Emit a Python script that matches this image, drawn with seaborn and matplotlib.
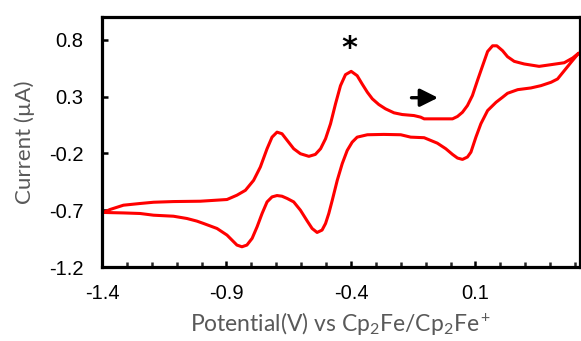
import matplotlib
matplotlib.use("Agg")
import matplotlib.pyplot as plt
import seaborn as sns
import pandas as pd
from matplotlib.ticker import MultipleLocator, FixedLocator

# Forward (anodic) scan
fwd_potential = [-1.395, -1.368, -1.314, -1.247, -1.193, -1.113, -1.005, -0.898, -0.858, -0.824,
                 -0.791, -0.764, -0.737, -0.717, -0.697, -0.677, -0.656, -0.630, -0.603, -0.569,
                 -0.543, -0.522, -0.502, -0.482, -0.462, -0.442, -0.422, -0.399, -0.375, -0.355,
                 -0.334, -0.314, -0.288, -0.261, -0.227, -0.194, -0.147, -0.120, -0.106, -0.053,
                 0.008, 0.028, 0.048, 0.068, 0.088, 0.108, 0.129, 0.149, 0.169, 0.186,
                 0.209, 0.229, 0.256, 0.296, 0.356, 0.404, 0.457, 0.491, 0.515]
fwd_current = [-0.720, -0.694, -0.656, -0.641, -0.630, -0.624, -0.621, -0.606, -0.568, -0.525,
               -0.437, -0.320, -0.159, -0.057, -0.013, -0.027, -0.086, -0.159, -0.203, -0.226,
               -0.209, -0.159, -0.071, 0.061, 0.236, 0.396, 0.493, 0.522, 0.484, 0.411,
               0.338, 0.280, 0.230, 0.192, 0.157, 0.142, 0.133, 0.119, 0.104, 0.104,
               0.104, 0.125, 0.162, 0.221, 0.309, 0.440, 0.572, 0.697, 0.747, 0.747,
               0.704, 0.651, 0.610, 0.587, 0.566, 0.581, 0.598, 0.640, 0.683]

# Reverse (cathodic) scan
rev_potential = [0.515, 0.484, 0.457, 0.430, 0.404, 0.363, 0.323, 0.270, 0.229, 0.209,
                 0.183, 0.149, 0.122, 0.102, 0.082, 0.068, 0.048, 0.028, 0.008, -0.019,
                 -0.053, -0.106, -0.160, -0.200, -0.268, -0.334, -0.375, -0.395, -0.415, -0.435,
                 -0.455, -0.475, -0.489, -0.502, -0.516, -0.536, -0.556, -0.576, -0.603, -0.630,
                 -0.656, -0.677, -0.697, -0.717, -0.737, -0.757, -0.777, -0.797, -0.818, -0.838,
                 -0.858, -0.878, -0.898, -0.938, -0.992, -1.019, -1.059, -1.113, -1.193, -1.247,
                 -1.314, -1.395]
rev_current = [0.683, 0.601, 0.528, 0.455, 0.426, 0.396, 0.376, 0.361, 0.329, 0.294,
               0.250, 0.177, 0.061, -0.057, -0.189, -0.232, -0.253, -0.241, -0.209, -0.159,
               -0.110, -0.062, -0.057, -0.036, -0.033, -0.036, -0.057, -0.101, -0.174, -0.290,
               -0.437, -0.612, -0.729, -0.817, -0.875, -0.896, -0.861, -0.794, -0.700, -0.627,
               -0.597, -0.577, -0.571, -0.583, -0.627, -0.729, -0.846, -0.948, -1.007, -1.022,
               -1.007, -0.963, -0.919, -0.861, -0.817, -0.796, -0.773, -0.753, -0.744, -0.729,
               -0.724, -0.720]

x_ticks = [-1.4, -0.9, -0.4, 0.1]
y_ticks = [-1.2, -0.7, -0.2, 0.3, 0.8]

df = pd.DataFrame({
    "potential": fwd_potential + rev_potential,
    "current": fwd_current + rev_current,
})

sns.set_style("white")
plt.rcParams["font.family"] = ["Liberation Sans", "DejaVu Sans"]
plt.rcParams["mathtext.fontset"] = "custom"
plt.rcParams["mathtext.rm"] = "Lato"
plt.rcParams["mathtext.it"] = "Lato:italic"

fig = plt.figure(figsize=(5.81, 3.41), dpi=100)
ax = fig.add_axes([0.1756, 0.217, 0.8226, 0.733])

sns.lineplot(data=df, x="potential", y="current", sort=False, estimator=None,
             color="#ff0000", lw=2.2, ax=ax)

ax.set_xlim(-1.4, 0.52)
ax.set_ylim(-1.2, 1.0)
ax.xaxis.set_major_locator(FixedLocator(x_ticks))
ax.xaxis.set_minor_locator(MultipleLocator(0.1))
ax.yaxis.set_major_locator(FixedLocator(y_ticks))
ax.set_xticklabels([f"{v:g}" for v in x_ticks])
ax.set_yticklabels([f"{v:g}" for v in y_ticks])

for sp in ax.spines.values():
    sp.set_visible(True)
    sp.set_linewidth(2.3)
    sp.set_color("black")

ax.tick_params(axis="both", which="major", direction="in", length=4.5, width=1.8,
               labelsize=14.5, colors="black")
ax.tick_params(axis="x", which="major", pad=12, bottom=True)
ax.tick_params(axis="y", which="major", pad=13.5, left=True)
ax.tick_params(axis="x", which="minor", direction="in", length=3.5, width=1.8, bottom=True)

ax.set_xlabel("Potential(V) vs Cp$_2$Fe/Cp$_2$Fe$^+$", fontfamily="Lato",
              fontsize=16.5, color="#595959", labelpad=5)
ax.set_ylabel("Current (µA)", fontfamily="Lato", fontsize=16, color="#595959", labelpad=10)

ax.annotate("", xy=(-0.039, 0.29), xytext=(-0.168, 0.29),
            arrowprops=dict(arrowstyle="-|>", color="black", lw=2.4, mutation_scale=27))
ax.text(-0.405, 0.65, "*", ha="center", va="baseline", fontsize=22,
        fontfamily="DejaVu Sans", fontweight="bold", color="black")

fig.savefig("out.png", dpi=100)
